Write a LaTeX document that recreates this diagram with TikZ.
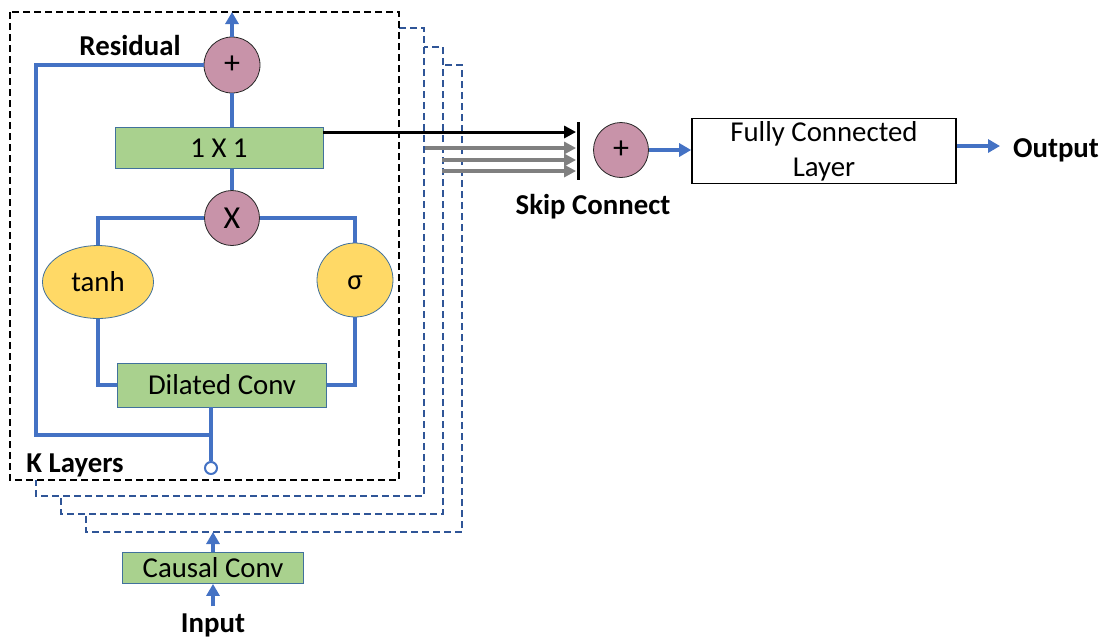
\documentclass[tikz,border=0pt]{standalone}
\usepackage{fontspec}
\setmainfont{Carlito}
\usetikzlibrary{arrows.meta,positioning,shapes.geometric}
\definecolor{Wire}{HTML}{4472C4}
\definecolor{Leaf}{HTML}{A9D18E}
\definecolor{Gold}{HTML}{FFD966}
\definecolor{Mauve}{HTML}{C893A9}
\definecolor{Rim}{HTML}{41719C}
\definecolor{Stack}{HTML}{2F5597}
\tikzset{
  convbox/.style={draw=Rim, fill=Leaf, inner sep=0pt, font=\fontsize{14.4}{17.5}\selectfont},
  gatecirc/.style={circle, draw=black!85, fill=Mauve, minimum size=#1, inner sep=0pt,
    font=\fontsize{16}{17.5}\selectfont},
  gatecirc/.default={27.5pt},
  actoval/.style={ellipse, draw=Rim, fill=Gold, inner sep=0pt, font=\fontsize{14.4}{17.5}\selectfont},
  wire/.style={draw=Wire, line width=2pt},
  wirearr/.style={wire, -{Triangle[length=6pt,width=6.5pt]}},
  skiparr/.style={line width=#1, -{Triangle[length=6pt,width=6pt]}},
  layerframe/.style={draw=Stack, line width=0.6pt, dash pattern=on 3.5pt off 2pt, fill=white},
  lbl/.style={font=\bfseries\fontsize{14.4}{17.5}\selectfont},
}

\begin{document}
\begin{tikzpicture}[x=0.5pt, y=-0.5pt]
  \useasboundingbox (0,0) rectangle (1104,639);

  % stacked layers, back to front
  \draw[layerframe] (86,65) rectangle (462,532);
  \draw[layerframe] (61,47) rectangle (443,514);
  \draw[layerframe] (36,28) rectangle (424,496);
  \draw[layerframe, draw=black, line width=0.8pt] (10,12) rectangle (399,480);

  % gated block
  \node[gatecirc=28pt] (res) at (232,65) {+};
  \node[convbox, minimum width=104pt, minimum height=20.5pt] (one) at (219,148) {1 X 1};
  \node[gatecirc] (mul) at (232,218) {X};
  \node[actoval, minimum width=55.5pt, minimum height=36.5pt] (tanh) at (98,282) {tanh};
  \node[actoval, minimum width=38pt, minimum height=37pt] (sig) at (355,280) {\smash{\raisebox{-4.5pt}{σ}}};
  \node[convbox, minimum width=104.5pt, minimum height=22pt] (dil) at (222,385) {Dilated Conv};
  \node[circle, draw=Wire, line width=1pt, fill=white, minimum size=6pt, inner sep=0pt] (tap) at (211,468) {};

  \node[lbl] (reslbl) at (130,45) {Residual};
  \node[lbl] (klbl) at (75,465) {K Layers};

  \coordinate (top) at (232,12);
  \coordinate (bend) at (36,435);

  \draw[wirearr] (res.north) -- (top);
  \draw[wire] (one.north -| res) -- (res.south);
  \draw[wire] (mul.north) -- (mul.north |- one.south);
  \draw[wire] (mul.west) -- (tanh.north |- mul.west) -- (tanh.north);
  \draw[wire] (mul.east) -| (sig.north);
  \draw[wire] (tanh.south) |- (dil.west);
  \draw[wire] (sig.south) |- (dil.east);
  \draw[wire] (tap.north) -- (tap.north |- dil.south);
  \draw[wire] (res.west) -| (bend) -- (bend -| tap);

  % input side
  \node[convbox, minimum width=90.5pt, minimum height=15.5pt] (causal) at (213,568) {Causal Conv};
  \node[lbl] (inlbl) at (213,625) {Input};
  \coordinate (stackin) at (213,532);
  \draw[wirearr] (inlbl.north) -- (causal.south);
  \draw[wirearr] (causal.north) -- (stackin);

  % skip connections
  \node[fill=black, minimum width=1.5pt, minimum height=29pt, inner sep=0pt] (bar) at (578,151) {};
  \coordinate (s2) at (425,148);
  \coordinate (s3) at (442,160);
  \coordinate (s4) at (442,171);
  \draw[skiparr=1.5pt] (one.east |- 0,132) -- (bar.west |- 0,132);
  \draw[skiparr=2pt, draw=gray] (s2) -- (bar.west |- s2);
  \draw[skiparr=2pt, draw=gray] (s3) -- (bar.west |- s3);
  \draw[skiparr=2pt, draw=gray] (s4) -- (bar.west |- s4);
  \node[lbl] (skiplbl) at (593,207) {Skip Connect};

  % output side
  \node[gatecirc] (sum) at (621,150) {+};
  \node[draw, line width=0.8pt, fill=white, minimum width=132pt, minimum height=32.5pt,
    align=center, inner sep=0pt, font=\fontsize{14.4}{17.5}\selectfont] (fc) at (824,151)
    {Fully Connected\\Layer};
  \node[lbl] (outlbl) at (1056,150) {Output};
  \draw[wirearr] (sum.east) -- (fc.west |- sum.east);
  \draw[wirearr, shorten >=3pt] (fc.east |- 0,146) -- (outlbl.west |- 0,146);
\end{tikzpicture}
\end{document}
